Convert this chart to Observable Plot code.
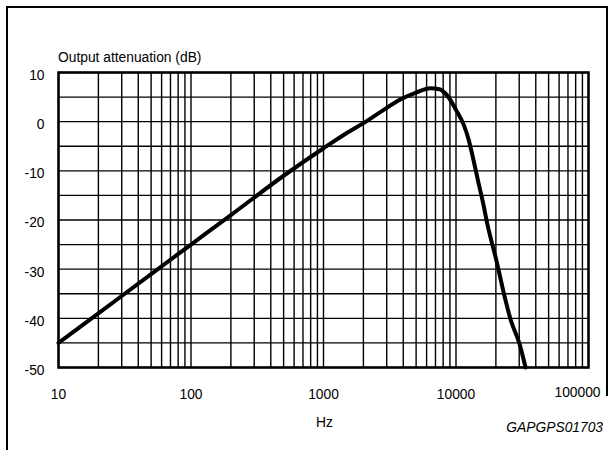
<!DOCTYPE html>
<html>
<head>
<meta charset="utf-8">
<script src="https://cdn.jsdelivr.net/npm/d3@7"></script>
<script src="https://cdn.jsdelivr.net/npm/@observablehq/plot@0.6"></script>
<style>
  html, body { margin: 0; padding: 0; background: #fff; }
  #wrap { position: relative; width: 614px; height: 450px; overflow: hidden; font-family: "Liberation Sans", Arial, Helvetica, sans-serif; }
  #wrap svg { position: absolute; left: 0; top: 0; }
  .lbl { position: absolute; font-size: 13.8px; color: #000; white-space: nowrap; line-height: 1; }
  .bL { position: absolute; left: 6px; top: 6px; width: 2px; height: 444px; background: #000; }
  .bT { position: absolute; left: 6px; top: 6px; width: 602px; height: 2px; background: #000; }
  .bR { position: absolute; left: 606px; top: 6px; width: 2px; height: 390px; background: #000; }
</style>
</head>
<body>
<div id="wrap">
  <div class="bL"></div><div class="bT"></div><div class="bR"></div>
  <div class="lbl" style="left:58px; top:51px;">Output attenuation (dB)</div>
  <div class="lbl" style="left:316px; top:416px;">Hz</div>
  <div class="lbl" style="right:11px; top:421px; font-style:italic;">GAPGPS01703</div>
</div>
<script>
// Frequency response (Hz → dB)
const freq = [10, 20, 50, 100, 200, 500, 1000, 1500, 2000, 2700, 3800, 5000, 6400, 7500, 8600, 10000, 11500, 12500, 13600, 14800, 16000, 17300, 20500, 23000, 26000, 30000, 33500];
const atten = [-45, -39, -31, -25, -19, -11, -5.4, -2.3, -0.3, 2.0, 4.5, 5.9, 6.8, 6.6, 5.3, 2.4, -0.8, -3.8, -8.0, -12.5, -16.5, -21, -29, -35, -40.5, -45, -50];
const xTickLabels = [10, 100, 1000, 10000, 100000];
const yTickLabels = [10, 0, -10, -20, -30, -40, -50];
const decades = [10, 100, 1000, 10000];
const multiples = [1, 2, 3, 4, 5, 6, 7, 8, 9];
const yGrid = [10, 5, 0, -5, -10, -15, -20, -25, -30, -35, -40, -45, -50];

const xGrid = decades.flatMap(d => multiples.map(m => d * m)).concat([100000]);
const data = freq.map((f, i) => ({f, v: atten[i]}));

const chart = Plot.plot({
  width: 614,
  height: 450,
  marginTop: 72,
  marginBottom: 83,
  marginLeft: 58,
  marginRight: 26,
  style: {fontFamily: '"Liberation Sans", Arial, Helvetica, sans-serif', fontSize: "13.8px", color: "#000", background: "transparent"},
  x: {type: "log", domain: [10, 100000]},
  y: {domain: [-50, 10]},
  marks: [
    Plot.ruleX(xGrid, {stroke: "#000", strokeWidth: 1.4}),
    Plot.ruleY(yGrid, {stroke: "#000", strokeWidth: 1.4}),
    Plot.frame({stroke: "#000", strokeWidth: 2.5}),
    Plot.line(data, {x: "f", y: "v", stroke: "#000", strokeWidth: 4, curve: "monotone-x", strokeLinejoin: "round"}),
    Plot.axisY(yTickLabels, {tickSize: 0, tickPadding: 14, tickFormat: d => String(d), label: null, dy: 3}),
    Plot.axisX(xTickLabels.slice(0, 4), {tickSize: 0, tickPadding: 22, tickFormat: d => String(d), label: null}),
    Plot.text(xTickLabels.slice(4), {x: d => d, frameAnchor: "bottom", dy: 29, dx: -11, text: d => String(d)})
  ]
});
document.getElementById("wrap").prepend(chart);
</script>
</body>
</html>
